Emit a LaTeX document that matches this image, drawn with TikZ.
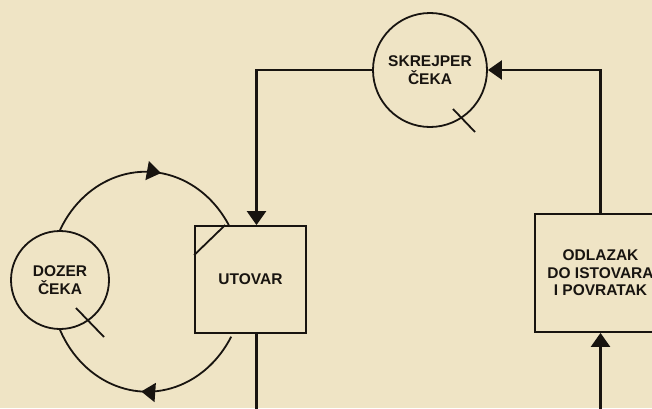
\documentclass[tikz,border=0pt]{standalone}
\usepackage{fontspec}
\setmainfont{Liberation Sans}
\usetikzlibrary{arrows.meta,decorations.markings}
\definecolor{parchment}{RGB}{239,228,197}
\definecolor{ink}{RGB}{24,20,16}

\begin{document}
\begin{tikzpicture}[x=1pt, y=1pt,
    queue/.style={draw=ink, circle, line width=1.8pt, inner sep=0pt, align=center, text=ink,
      font=\fontsize{15.5}{17.5}\selectfont\bfseries},
    activity/.style={draw=ink, rectangle, line width=1.8pt, inner sep=0pt, align=center, text=ink,
      font=\fontsize{15.5}{17.5}\selectfont\bfseries},
    link/.style={draw=ink, line width=2.4pt, -{Triangle[length=14pt, width=19pt]}},
    ring/.style={draw=ink, line width=1.8pt},
    fwd mark/.style={postaction={decorate}, decoration={markings,
      mark=at position #1 with {\arrow{Triangle[length=14pt, width=19pt]}}}},
    back mark/.style={postaction={decorate}, decoration={markings,
      mark=at position #1 with {\arrowreversed{Triangle[length=14pt, width=19pt]}}}}
  ]
    \useasboundingbox (0,0) rectangle (652,408);
    \fill[parchment] (0,0) rectangle (652,408);
    \clip (0,0) rectangle (652,408);

    % queues and activities
    \node[queue, minimum size=114pt] (skrejper) at (430,338) {SKREJPER\\ČEKA};
    \node[queue, minimum size=98pt] (dozer) at (60,128) {DOZER\\ČEKA};
    \node[activity, minimum width=111pt, minimum height=107pt] (utovar) at (250.5,128.5) {UTOVAR};
    \node[activity, minimum width=131pt, minimum height=118pt] (odlazak) at (600.5,135)
      {ODLAZAK\\DO ISTOVARA\\I POVRATAK};

    \draw[ring] ([shift={(23,-39)}]skrejper.center) -- ++(22,-23);
    \draw[ring] ([shift={(16,-28)}]dozer.center) -- ++(28,-29);
    \draw[ring] ([yshift=-30pt]utovar.north west) -- ([xshift=31pt]utovar.north west);

    % dozer cycle
    \draw[ring, fwd mark=0.58] (dozer.north) arc[start angle=152, end angle=30, x radius=97, y radius=110];
    \draw[ring, back mark=0.49] (dozer.south) arc[start angle=206, end angle=330, x radius=97, y radius=110];

    % scraper cycle
    \coordinate (lowright) at (600.5,-1.8);
    \draw[link] (odlazak.north) |- (skrejper.east);
    \draw[link] (skrejper.west) -| ([xshift=6pt]utovar.north);
    \draw[link] ([xshift=6pt]utovar.south) |- (lowright) -- (odlazak.south);
  \end{tikzpicture}
\end{document}
